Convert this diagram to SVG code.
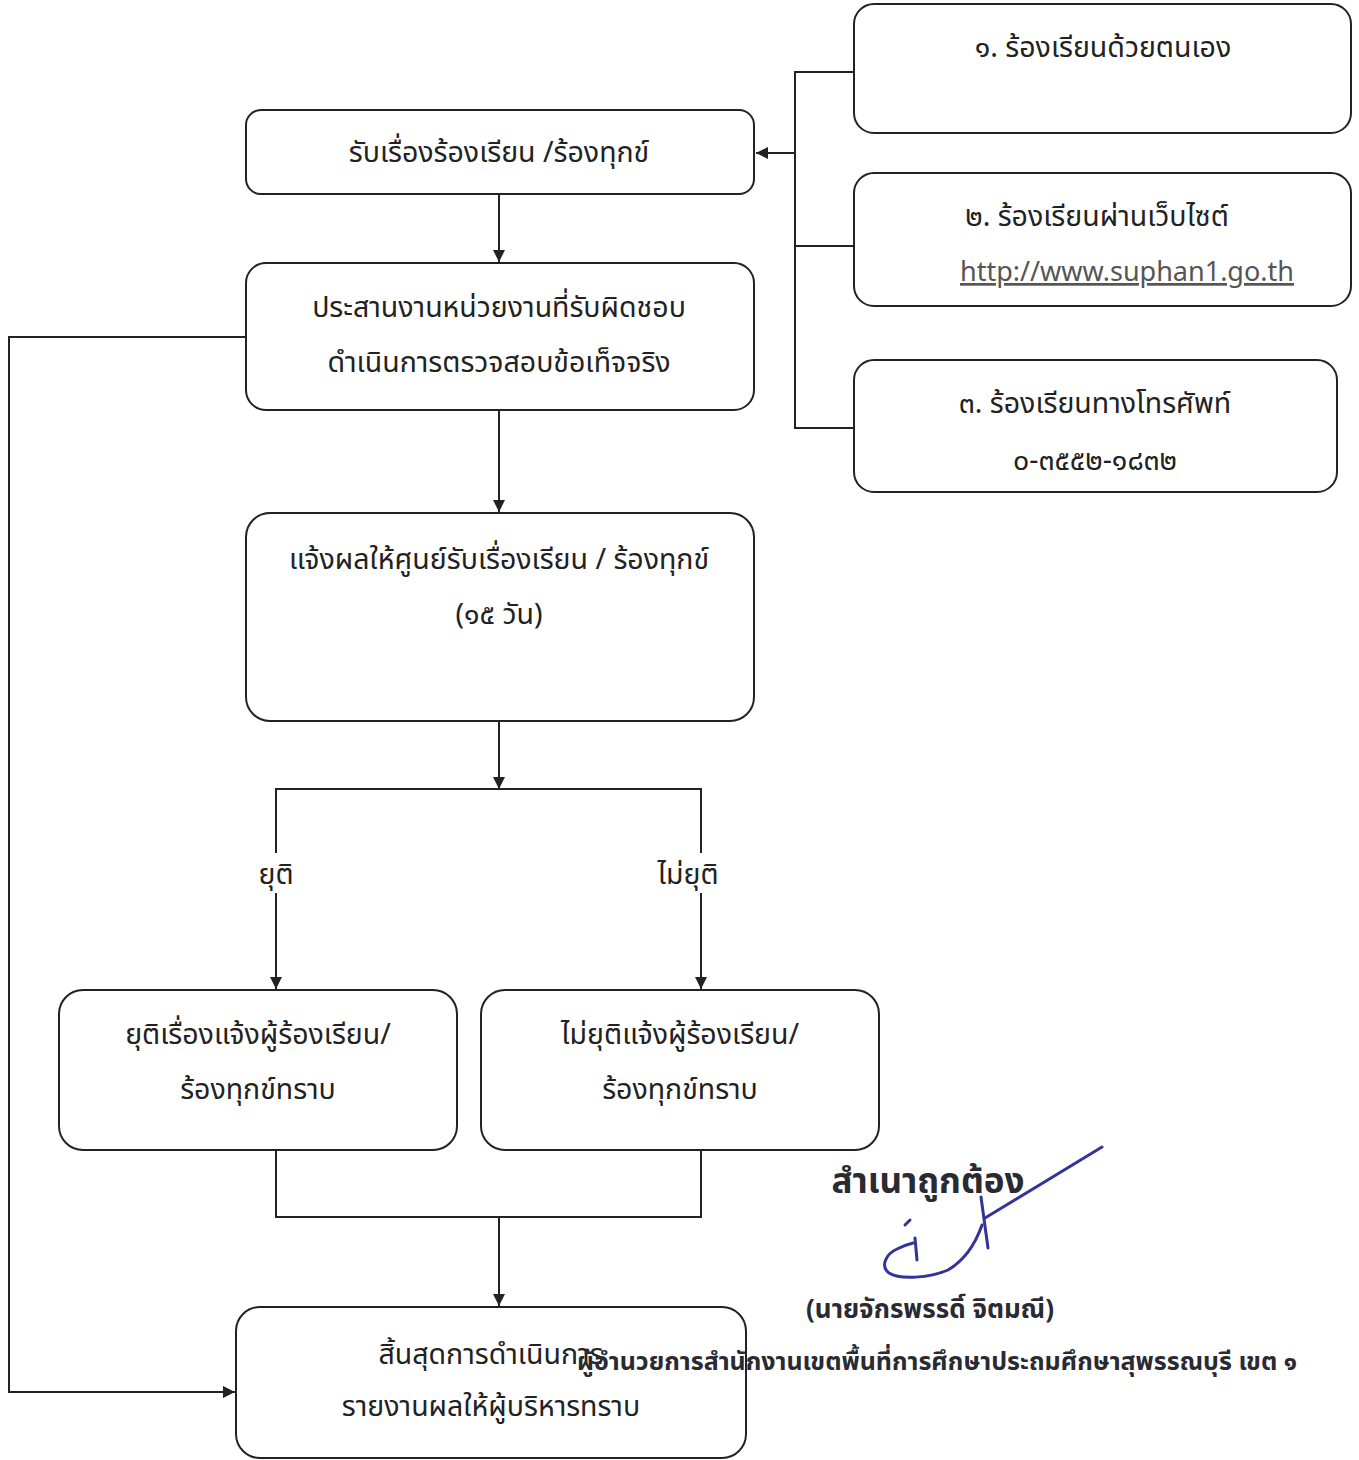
<svg xmlns="http://www.w3.org/2000/svg" width="1359" height="1460" viewBox="0 0 1359 1460">
<defs>
<style>
.box{fill:#fff;stroke:#222;stroke-width:2}
.t{font-family:"Noto Sans Thai","Noto Sans","DejaVu Sans",sans-serif;font-size:28.5px;fill:#222;text-anchor:middle}
.c{fill:none;stroke:#222;stroke-width:2}
.sig{font-family:"Noto Sans Thai","Noto Sans","DejaVu Sans",sans-serif;font-weight:bold;fill:#2a2a33}
.pen{fill:none;stroke:#33339a;stroke-width:3;stroke-linecap:round;stroke-linejoin:round}
</style>
<marker id="ah" viewBox="0 0 12 12" refX="12" refY="6" markerWidth="12" markerHeight="12" markerUnits="userSpaceOnUse" orient="auto">
<path d="M0,0 L12,6 L0,12 z" fill="#222"/>
</marker>
</defs>
<rect width="1359" height="1460" fill="#fff"/>
<g id="connectors">
<path class="c" d="M854,72 H795 V428 H854 M795,246 H854"/>
<path class="c" d="M795,153 H756" marker-end="url(#ah)"/>
<path class="c" d="M499,194 V262" marker-end="url(#ah)"/>
<path class="c" d="M499,410 V512" marker-end="url(#ah)"/>
<path class="c" d="M499,721 V789" marker-end="url(#ah)"/>
<path class="c" d="M276,990 V789 H701 V990"/>
<path class="c" d="M276,960 V989" marker-end="url(#ah)"/>
<path class="c" d="M701,960 V989" marker-end="url(#ah)"/>
<path class="c" d="M276,1150 V1217 H701 V1150"/>
<path class="c" d="M499,1217 V1306" marker-end="url(#ah)"/>
<path class="c" d="M246,337 H9 V1392 H235" marker-end="url(#ah)"/>
<rect x="258" y="853" width="36" height="40" fill="#fff"/>
<rect x="654" y="853" width="66" height="40" fill="#fff"/>
<text class="t" x="276" y="884">ยุติ</text>
<text class="t" x="688" y="884">ไม่ยุติ</text>
</g>
<g id="n-receive">
<rect class="box" x="246" y="110" width="508" height="84" rx="15"/>
<text class="t" x="499" y="162">รับเรื่องร้องเรียน /ร้องทุกข์</text>
</g>
<g id="n-coordinate">
<rect class="box" x="246" y="263" width="508" height="147" rx="20"/>
<text class="t" x="499" y="317">ประสานงานหน่วยงานที่รับผิดชอบ</text>
<text class="t" x="499" y="372">ดำเนินการตรวจสอบข้อเท็จจริง</text>
</g>
<g id="n-notify">
<rect class="box" x="246" y="513" width="508" height="208" rx="24"/>
<text class="t" x="499" y="569">แจ้งผลให้ศูนย์รับเรื่องเรียน / ร้องทุกข์</text>
<text class="t" x="499" y="624">(๑๕ วัน)</text>
</g>
<g id="n-end-ok">
<rect class="box" x="59" y="990" width="398" height="160" rx="24"/>
<text class="t" x="258" y="1044">ยุติเรื่องแจ้งผู้ร้องเรียน/</text>
<text class="t" x="258" y="1099">ร้องทุกข์ทราบ</text>
</g>
<g id="n-end-no">
<rect class="box" x="481" y="990" width="398" height="160" rx="24"/>
<text class="t" x="680" y="1044">ไม่ยุติแจ้งผู้ร้องเรียน/</text>
<text class="t" x="680" y="1099">ร้องทุกข์ทราบ</text>
</g>
<g id="n-finish">
<rect class="box" x="236" y="1307" width="510" height="151" rx="24"/>
<text class="t" x="491" y="1364">สิ้นสุดการดำเนินการ</text>
<text class="t" x="491" y="1416">รายงานผลให้ผู้บริหารทราบ</text>
</g>
<g id="n-self">
<rect class="box" x="854" y="4" width="497" height="129" rx="20"/>
<text class="t" x="1103" y="57">๑. ร้องเรียนด้วยตนเอง</text>
</g>
<g id="n-web">
<rect class="box" x="854" y="173" width="497" height="133" rx="20"/>
<text class="t" x="1097" y="226">๒. ร้องเรียนผ่านเว็บไซต์</text>
<text class="t" x="1127" y="281" text-decoration="underline" style="fill:#555;font-size:27px">http://www.suphan1.go.th</text>
</g>
<g id="n-phone">
<rect class="box" x="854" y="360" width="483" height="132" rx="20"/>
<text class="t" x="1095" y="413">๓. ร้องเรียนทางโทรศัพท์</text>
<text class="t" x="1095" y="470">๐-๓๕๕๒-๑๘๓๒</text>
</g>
<g id="signature">
<text class="sig" x="928" y="1193" font-size="35" text-anchor="middle">สำเนาถูกต้อง</text>
<path class="pen" d="M1102,1147 L985,1218"/>
<path class="pen" d="M981,1197 L988,1248"/>
<path class="pen" d="M982,1225 C975,1245 965,1260 948,1270 C930,1278 900,1280 889,1273 C880,1266 886,1254 897,1249 C903,1246 909,1244 913,1243"/>
<path class="pen" d="M915,1238 L917,1260 M905,1225 L910,1220"/>
<text class="sig" x="930" y="1318" font-size="26" text-anchor="middle">(นายจักรพรรดิ์  จิตมณี)</text>
<text class="sig" x="937" y="1370" font-size="25" text-anchor="middle">ผู้อำนวยการสำนักงานเขตพื้นที่การศึกษาประถมศึกษาสุพรรณบุรี เขต ๑</text>
</g>
</svg>
